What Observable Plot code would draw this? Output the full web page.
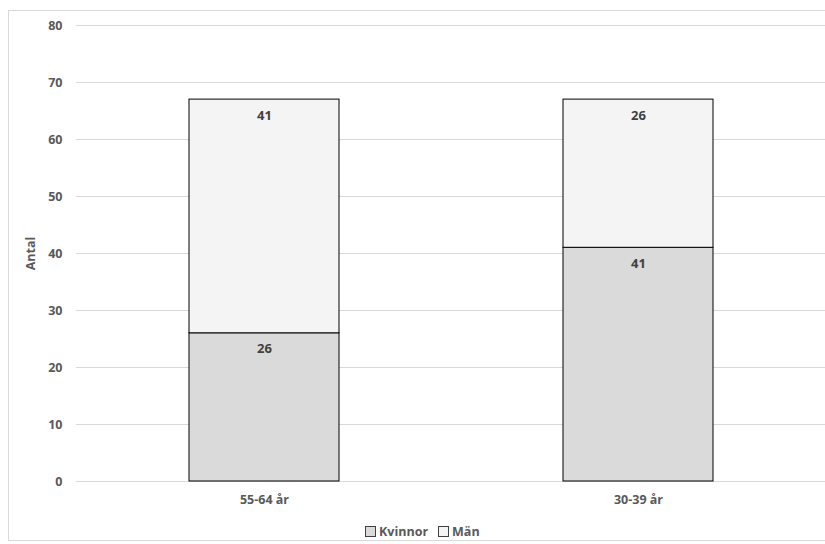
<!DOCTYPE html>
<html>
<head>
<meta charset="utf-8">
<script src="https://cdn.jsdelivr.net/npm/d3@7"></script>
<script src="https://cdn.jsdelivr.net/npm/@observablehq/plot@0.6"></script>
<style>
  body { margin: 0; background: #fff; font-family: "Open Sans", "Noto Sans", sans-serif; }
  #wrap { position: relative; width: 825px; height: 544px; overflow: hidden; }
  #border { position: absolute; left: 8px; top: 10px; width: 830px; height: 531px; border: 1px solid #d9d9d9; box-sizing: border-box; }
  #chart { position: absolute; left: 0; top: 0; }
  #legend { position: absolute; left: 365px; top: 521px; height: 20px; display: flex; align-items: center; gap: 10px;
            font-size: 12.5px; font-weight: bold; color: #595959; }
  .item { display: flex; align-items: center; gap: 3px; }
  .sw { width: 9px; height: 9px; border: 1px solid #404040; display: inline-block; }
</style>
</head>
<body>
<div id="wrap">
  <div id="border"></div>
  <div id="chart"></div>
  <div id="legend"></div>
</div>
<script>
const categories = ["55-64 år", "30-39 år"];
const seriesNames = ["Kvinnor", "Män"];
const kvinnor = [26, 41];
const man = [41, 26];
const seriesColors = ["#dadada", "#f4f4f4"];
const yTicks = [0, 10, 20, 30, 40, 50, 60, 70, 80];

const data = [];
categories.forEach((c, i) => {
  data.push({ cat: c, series: seriesNames[0], value: kvinnor[i] });
  data.push({ cat: c, series: seriesNames[1], value: man[i] });
});

const chart = Plot.plot({
  width: 825,
  height: 520,
  marginLeft: 76,
  marginRight: 0,
  marginTop: 25,
  marginBottom: 39,
  style: { fontFamily: "Open Sans, Noto Sans, sans-serif", fontWeight: "bold", fontSize: "12.5px", color: "#595959", background: "transparent" },
  x: { domain: categories, paddingInner: 0.6, paddingOuter: 0.3, label: null, tickSize: 0, tickPadding: 14 },
  y: { domain: [0, 80], ticks: yTicks, label: "Antal", labelAnchor: "center", labelArrow: "none", tickSize: 0, tickPadding: 14, labelOffset: 50 },
  color: { domain: seriesNames, range: seriesColors },
  marks: [
    Plot.ruleY(yTicks, { stroke: "#d9d9d9", strokeWidth: 1 }),
    Plot.barY(data, Plot.stackY({ x: "cat", y: "value", fill: "series", stroke: "#000", strokeWidth: 1, order: seriesNames })),
    Plot.text(data, Plot.stackY2({ x: "cat", y: "value", z: "series", order: seriesNames, text: d => String(d.value), dy: 16, fill: "#404040", fontWeight: "bold", fontSize: 13 }))
  ]
});
document.getElementById("chart").appendChild(chart);

const legend = document.getElementById("legend");
seriesNames.forEach((s, i) => {
  const item = document.createElement("div");
  item.className = "item";
  const sw = document.createElement("span");
  sw.className = "sw";
  sw.style.background = seriesColors[i];
  const t = document.createElement("span");
  t.textContent = s;
  item.appendChild(sw);
  item.appendChild(t);
  legend.appendChild(item);
});
</script>
</body>
</html>
